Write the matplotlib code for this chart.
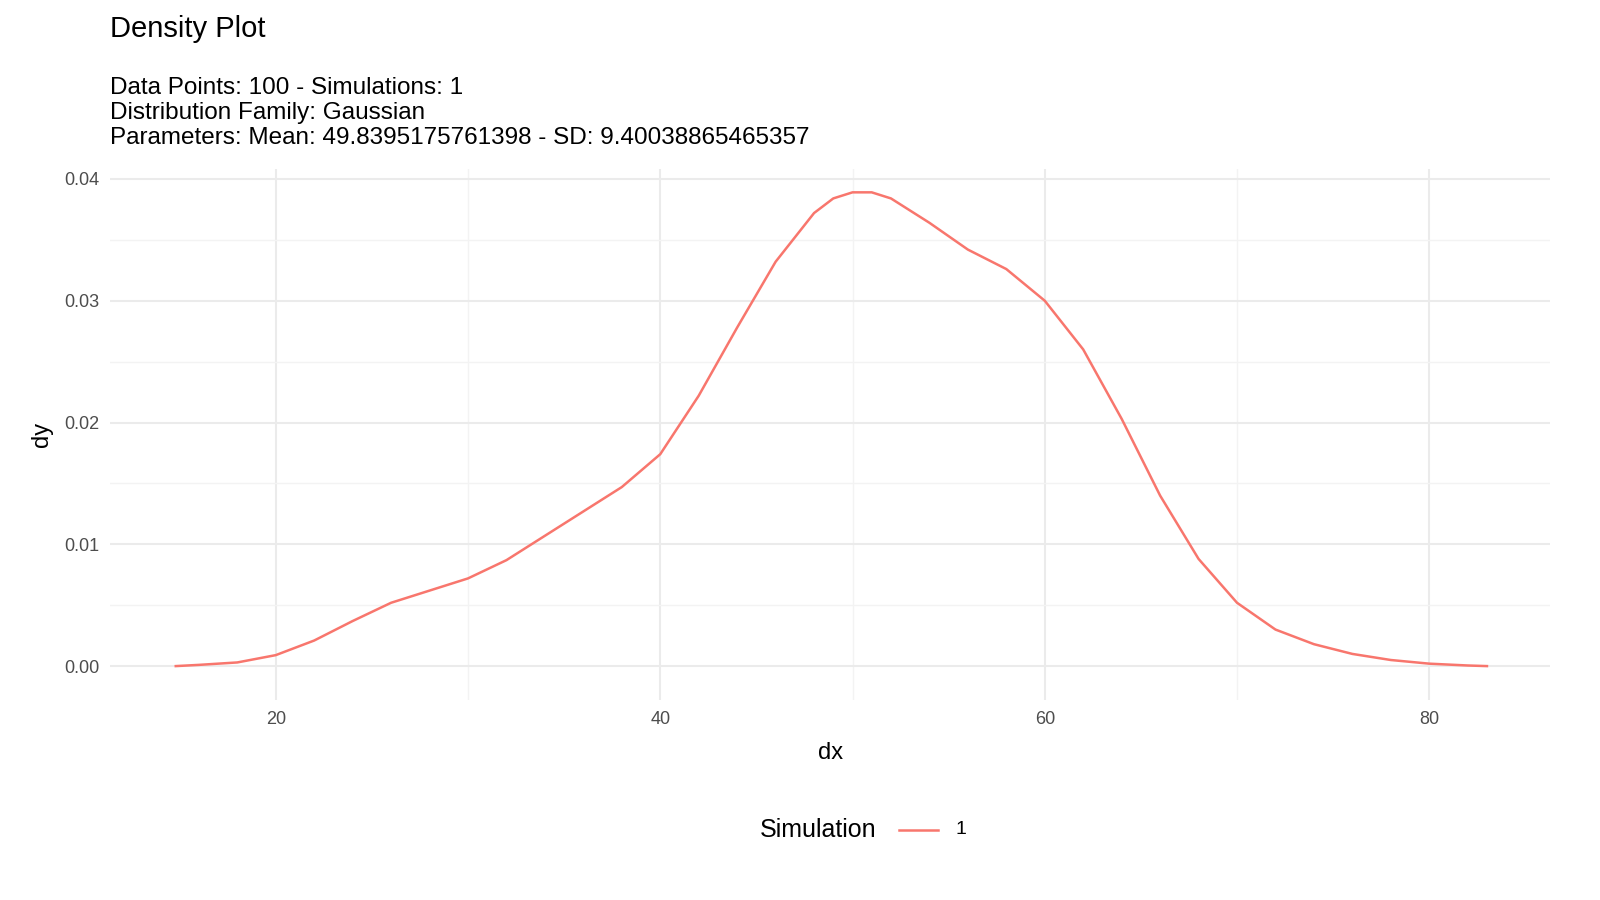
import matplotlib.pyplot as plt
from matplotlib.lines import Line2D

dx = [14.8, 16, 18, 20, 22, 24, 26, 28, 30, 32, 34, 36, 38, 40, 42, 44, 46, 48, 49, 50, 51, 52,
      54, 56, 58, 60, 62, 64, 66, 68, 70, 72, 74, 76, 78, 80, 82, 83]
dy = [0.0, 0.0001, 0.0003, 0.0009, 0.0021, 0.0037, 0.0052, 0.0062, 0.0072, 0.0087, 0.0107,
      0.0127, 0.0147, 0.0174, 0.0222, 0.0278, 0.0332, 0.0372, 0.0384, 0.0389, 0.0389, 0.0384,
      0.0364, 0.0342, 0.0326, 0.0300, 0.0260, 0.0203, 0.0140, 0.0088, 0.0052, 0.0030, 0.0018,
      0.0010, 0.0005, 0.0002, 0.00005, 0.0]

plt.rcParams['font.family'] = ['Liberation Sans', 'DejaVu Sans']

fig = plt.figure(figsize=(16, 9), dpi=100)
ax = fig.add_axes([0.069, 0.222, 0.9, 0.59])
ax.plot(dx, dy, color='#F8766D', lw=1.8, solid_joinstyle='round')

ax.set_xlim(11.4, 86.3)
ax.set_ylim(-0.0028, 0.0408)
ax.set_xticks([20, 40, 60, 80])
ax.set_xticks([30, 50, 70], minor=True)
ax.set_yticks([0, 0.01, 0.02, 0.03, 0.04])
ax.set_yticklabels(['0.00', '0.01', '0.02', '0.03', '0.04'])
ax.set_yticks([0.005, 0.015, 0.025, 0.035], minor=True)
ax.grid(which='major', color='#EBEBEB', lw=1.5)
ax.grid(which='minor', color='#F3F3F3', lw=1.0)
ax.set_axisbelow(True)
for s in ax.spines.values():
    s.set_visible(False)
ax.tick_params(which='both', length=0, labelsize=13, labelcolor='#4D4D4D', pad=8)
ax.set_xlabel('dx', fontsize=17, labelpad=10)
ax.set_ylabel('dy', fontsize=17, labelpad=8)

fig.text(0.069, 0.968, 'Density Plot', fontsize=21, va='center')
fig.text(0.069, 0.835, 'Data Points: 100 - Simulations: 1\nDistribution Family: Gaussian\n'
         'Parameters: Mean: 49.8395175761398 - SD: 9.40038865465357',
         fontsize=17.5, va='bottom', linespacing=1.15)

# legend at the bottom: title to the left of the key
fig.text(0.548, 0.078, 'Simulation', fontsize=18, ha='right', va='center')
fig.add_artist(Line2D([0.562, 0.586], [0.078, 0.078], color='#F8766D', lw=1.8))
fig.text(0.597, 0.078, '1', fontsize=14, va='center')

fig.savefig('out.png')
